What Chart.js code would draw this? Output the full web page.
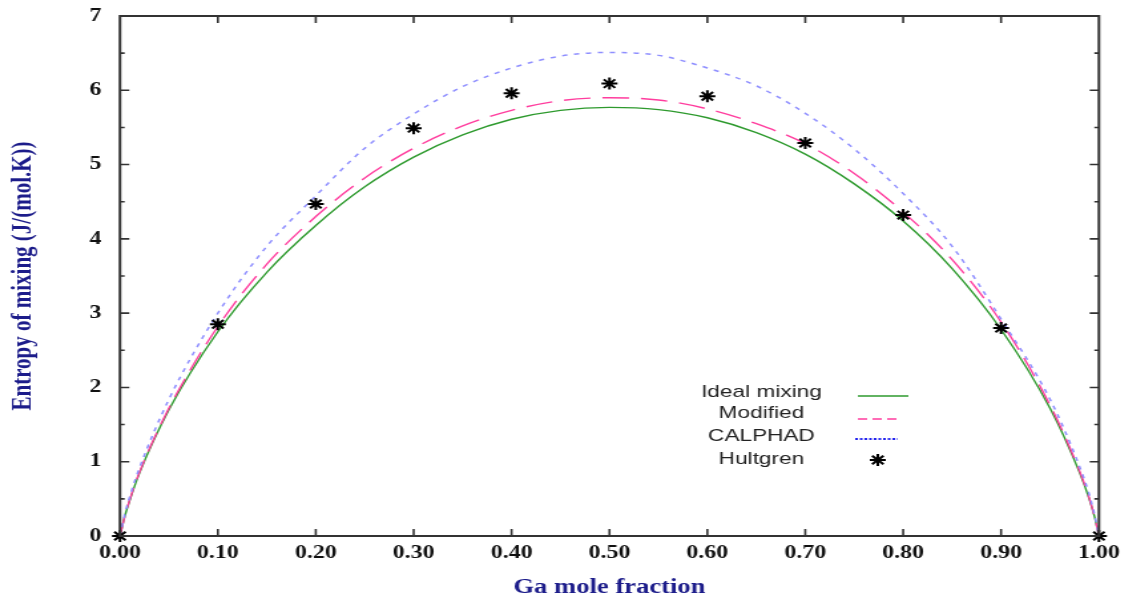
<!DOCTYPE html>
<html>
<head>
<meta charset="utf-8">
<script src="https://cdn.jsdelivr.net/npm/chart.js@4.4.1/dist/chart.umd.min.js"></script>
<style>
    html, body { margin: 0; padding: 0; background: #fff; overflow: hidden; }
    .stretch { width: 849px; height: 600px; transform: scaleX(1.33); transform-origin: 0 0; }
</style>
</head>
<body>
<div class="stretch">
    <canvas id="entropy"></canvas>
</div>
<script>
// Ga mole fraction samples used for the three curves
const fraction = [0, 0.005, 0.01, 0.02, 0.05, 0.1, 0.15, 0.2, 0.25, 0.3, 0.35, 0.4, 0.45, 0.5,
    0.55, 0.6, 0.65, 0.7, 0.75, 0.8, 0.85, 0.9, 0.95, 0.98, 0.99, 0.995, 1];
const idealMixing = [0, 0.27, 0.48, 0.85, 1.70, 2.75, 3.55, 4.18, 4.70, 5.10, 5.40, 5.61, 5.73, 5.77,
    5.74, 5.63, 5.43, 5.14, 4.74, 4.24, 3.60, 2.78, 1.72, 0.86, 0.50, 0.28, 0];
const modified = [0, 0.27, 0.49, 0.86, 1.72, 2.82, 3.66, 4.30, 4.82, 5.22, 5.52, 5.73, 5.86, 5.90,
    5.87, 5.75, 5.55, 5.28, 4.88, 4.36, 3.72, 2.88, 1.76, 0.88, 0.51, 0.28, 0];
const calphad = [0, 0.30, 0.53, 0.92, 1.84, 3.00, 3.90, 4.58, 5.22, 5.68, 6.05, 6.30, 6.46, 6.51,
    6.47, 6.30, 6.06, 5.69, 5.21, 4.61, 3.90, 2.92, 1.84, 0.94, 0.56, 0.31, 0];

const hultgrenFraction = [0, 0.1, 0.2, 0.3, 0.4, 0.5, 0.6, 0.7, 0.8, 0.9, 1.0];
const hultgren = [0, 2.85, 4.47, 5.49, 5.96, 6.09, 5.92, 5.29, 4.32, 2.80, 0];

const seriesLabels = ['Ideal mixing', 'Modified', 'CALPHAD', 'Hultgren'];
const xTitle = 'Ga mole fraction';
const yTitle = 'Entropy of mixing (J/(mol.K))';

function toPoints(xs, ys) {
    return xs.map((x, i) => ({ x: x, y: ys[i] }));
}

// box frame with inward ticks on all four sides
const framePlugin = {
    id: 'frame',
    afterDatasetsDraw(chart) {
        const { ctx, chartArea: a, scales } = chart;
        ctx.save();
        ctx.strokeStyle = '#333';
        ctx.lineWidth = 1.6;
        ctx.beginPath();
        for (let v = 0.1; v < 0.95; v += 0.1) {
            const px = scales.x.getPixelForValue(v);
            ctx.moveTo(px, a.bottom); ctx.lineTo(px, a.bottom - 7);
            ctx.moveTo(px, a.top); ctx.lineTo(px, a.top + 7);
        }
        for (let v = 0.5; v < 7; v += 0.5) {
            const py = scales.y.getPixelForValue(v);
            const len = Number.isInteger(v) ? 7 : 3.5;
            ctx.moveTo(a.left, py); ctx.lineTo(a.left + len, py);
            ctx.moveTo(a.right, py); ctx.lineTo(a.right - len, py);
        }
        ctx.stroke();
        ctx.lineWidth = 2;
        ctx.strokeRect(a.left, a.top, a.right - a.left, a.bottom - a.top);
        ctx.restore();
    }
};

// legend: text on the left, line sample on the right
const legendPlugin = {
    id: 'sideLegend',
    afterDraw(chart) {
        const ctx = chart.ctx;
        const rows = [392, 413.5, 436.5, 459.5];
        ctx.save();
        ctx.font = '17px "Liberation Sans", Arial, sans-serif';
        ctx.fillStyle = '#222';
        ctx.textAlign = 'center';
        ctx.textBaseline = 'middle';
        seriesLabels.forEach((label, i) => ctx.fillText(label, 572.5, rows[i]));

        ctx.lineWidth = 1.5;
        ctx.strokeStyle = '#2e9a2e';
        ctx.beginPath(); ctx.moveTo(645, 396); ctx.lineTo(683, 396); ctx.stroke();

        ctx.strokeStyle = '#ff3d9e';
        ctx.setLineDash([7, 4]);
        ctx.beginPath(); ctx.moveTo(645, 419); ctx.lineTo(678, 419); ctx.stroke();

        ctx.strokeStyle = '#2424ee';
        ctx.lineWidth = 2;
        ctx.setLineDash([2, 1.5]);
        ctx.beginPath(); ctx.moveTo(643, 439); ctx.lineTo(675, 439); ctx.stroke();
        ctx.setLineDash([]);

        ctx.strokeStyle = '#000';
        ctx.lineWidth = 2;
        const sx = 660, sy = 460, r = 6, d = r * Math.SQRT1_2;
        ctx.beginPath();
        ctx.moveTo(sx - r, sy); ctx.lineTo(sx + r, sy);
        ctx.moveTo(sx, sy - r); ctx.lineTo(sx, sy + r);
        ctx.moveTo(sx - d, sy - d); ctx.lineTo(sx + d, sy + d);
        ctx.moveTo(sx - d, sy + d); ctx.lineTo(sx + d, sy - d);
        ctx.stroke();
        ctx.restore();
    }
};

const tickFont = { family: '"Liberation Serif", "Times New Roman", serif', size: 18, weight: 'bold' };
const titleFont = { family: '"Liberation Serif", "Times New Roman", serif', size: 20, weight: 'bold' };

new Chart(document.getElementById('entropy'), {
    type: 'scatter',
    data: {
        datasets: [
            {
                label: seriesLabels[3],
                data: toPoints(hultgrenFraction, hultgren),
                showLine: false,
                pointStyle: 'star',
                pointRadius: 6,
                borderColor: '#000',
                backgroundColor: '#000',
                borderWidth: 2,
                clip: false,
                order: 0
            },
            {
                label: seriesLabels[0],
                data: toPoints(fraction, idealMixing),
                showLine: true,
                borderColor: '#2e9a2e',
                borderWidth: 1.4,
                pointRadius: 0,
                cubicInterpolationMode: 'monotone',
                order: 3
            },
            {
                label: seriesLabels[1],
                data: toPoints(fraction, modified),
                showLine: true,
                borderColor: '#ff3d9e',
                borderWidth: 1.4,
                borderDash: [20, 9],
                pointRadius: 0,
                cubicInterpolationMode: 'monotone',
                order: 2
            },
            {
                label: seriesLabels[2],
                data: toPoints(fraction, calphad),
                showLine: true,
                borderColor: '#8f8fff',
                borderWidth: 1.5,
                borderDash: [4, 5],
                pointRadius: 0,
                cubicInterpolationMode: 'monotone',
                order: 1
            }
        ]
    },
    options: {
        responsive: true,
        maintainAspectRatio: false,
        animation: false,
        layout: { padding: { top: 16, right: 22.7, left: 0, bottom: 0 } },
        plugins: {
            legend: { display: false },
            tooltip: { enabled: false }
        },
        scales: {
            x: {
                type: 'linear',
                min: 0,
                max: 1,
                grid: { display: false, drawTicks: false, tickLength: 0 },
                border: { display: false },
                ticks: {
                    stepSize: 0.1,
                    padding: 7,
                    color: '#111',
                    font: tickFont,
                    callback: (v) => v.toFixed(2)
                },
                title: { display: true, text: xTitle, color: '#1c1c8a', font: titleFont, padding: { top: 0, bottom: 0 } },
                afterFit: (scale) => { scale.height = 64; scale.paddingLeft = 0; scale.paddingRight = 0; }
            },
            y: {
                min: 0,
                max: 7,
                grid: { display: false, drawTicks: false, tickLength: 0 },
                border: { display: false },
                ticks: { stepSize: 1, padding: 14, color: '#111', font: tickFont },
                title: {
                    display: true, text: yTitle, color: '#1c1c8a',
                    font: { family: titleFont.family, size: 21, weight: 'bold' },
                    padding: { top: 5, bottom: 0 }
                },
                afterFit: (scale) => { scale.width = 90.2; scale.paddingTop = 0; scale.paddingBottom = 0; }
            }
        }
    },
    plugins: [framePlugin, legendPlugin]
});
</script>
</body>
</html>
